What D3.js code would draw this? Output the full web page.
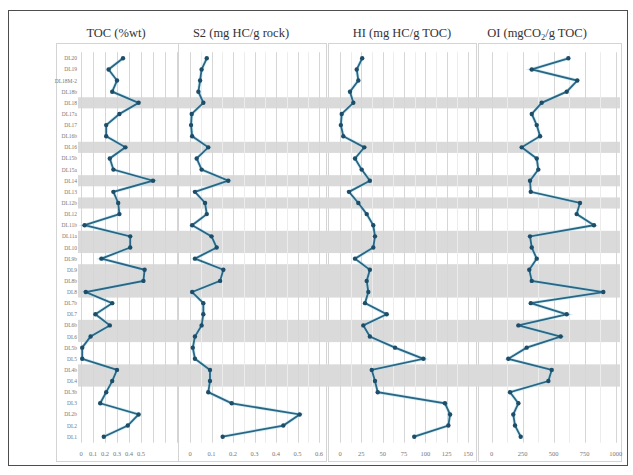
<!DOCTYPE html>
<html>
<head>
<meta charset="utf-8">
<script src="https://cdn.jsdelivr.net/npm/d3@7"></script>
<style>
  html, body { margin: 0; padding: 0; background: #fff; }
  svg { display: block; }
  svg text { font-family: "Liberation Serif", "DejaVu Serif", serif; }
</style>
</head>
<body>
<svg id="chart" width="633" height="475"></svg>
<script>
// samples, top to bottom
const samples = ['DL20', 'DL19', 'DL18M-2', 'DL18b', 'DL18', 'DL17a', 'DL17', 'DL16b', 'DL16', 'DL15b',
  'DL15a', 'DL14', 'DL13', 'DL12b', 'DL12', 'DL11b', 'DL11a', 'DL10', 'DL9b', 'DL9',
  'DL8b', 'DL8', 'DL7b', 'DL7', 'DL6b', 'DL6', 'DL5b', 'DL5', 'DL4b', 'DL4',
  'DL3b', 'DL3', 'DL2b', 'DL2', 'DL1'];

const toc = [0.35, 0.23, 0.30, 0.26, 0.48, 0.32, 0.21, 0.21, 0.37, 0.24,
  0.27, 0.60, 0.27, 0.31, 0.32, 0.03, 0.41, 0.41, 0.17, 0.53,
  0.52, 0.04, 0.26, 0.12, 0.24, 0.08, 0.01, 0.01, 0.30, 0.26,
  0.21, 0.16, 0.48, 0.39, 0.19];

const s2 = [0.078, 0.054, 0.047, 0.039, 0.062, 0.008, 0.005, 0.010, 0.085, 0.031,
  0.054, 0.178, 0.023, 0.070, 0.078, 0.010, 0.100, 0.124, 0.023, 0.155,
  0.140, 0.010, 0.062, 0.062, 0.054, 0.023, 0.013, 0.023, 0.093, 0.093,
  0.085, 0.194, 0.510, 0.434, 0.152];

const hi = [26, 19.6, 21.5, 11.7, 15.6, 2, 1, 3.9, 28.5, 17.6,
  25.4, 35, 10.5, 21.5, 31.3, 39, 41, 39, 17.6, 35,
  31.3, 33.2, 29.3, 54.7, 27.3, 35, 64.5, 97.7, 37.2, 41,
  44.2, 123, 129, 127, 87];

const oi = [618, 323, 690, 605, 403, 323, 363, 390, 242, 363,
  376, 309, 315, 712, 685, 825, 309, 323, 363, 303,
  323, 900, 315, 605, 215, 556, 282, 134, 484, 457,
  148, 215, 174, 188, 234];

// shaded intervals (first and last sample index)
const bands = [[4, 4], [8, 8], [11, 11], [13, 13], [16, 17], [19, 21], [24, 25], [28, 29]];

const tocTicks = [0, 0.1, 0.2, 0.3, 0.4, 0.5];
const s2Ticks = [0, 0.1, 0.2, 0.3, 0.4, 0.5, 0.6];
const hiTicks = [0, 25, 50, 75, 100, 125, 150];
const oiTicks = [0, 250, 500, 750, 1000];

const SERIF = '"Liberation Serif", "DejaVu Serif", serif';
const svg = d3.select('#chart');

const y = d3.scalePoint().domain(samples).range([58.3, 436.7]);
const step = y.step();
const plotTop = y(samples[0]) - step / 2 - 0.5;
const plotBottom = y(samples[samples.length - 1]) + step / 2 + 0.5;

const panels = [
  { title: 'TOC (%wt)', values: toc, ticks: tocTicks, grid: d3.range(0, 0.81, 0.1), minor: [],
    x: d3.scaleLinear().domain([0, 0.8]).range([81, 177]), box: [56, 178], tx: 116 },
  { title: 'S2 (mg HC/g rock)', values: s2, ticks: s2Ticks, grid: s2Ticks, minor: d3.range(0.05, 0.6, 0.1),
    x: d3.scaleLinear().domain([0, 0.6]).range([190, 319]), box: [178, 326], tx: 241 },
  { title: 'HI (mg HC/g TOC)', values: hi, ticks: hiTicks, grid: hiTicks, minor: d3.range(12.5, 150, 25),
    x: d3.scaleLinear().domain([0, 150]).range([340, 468]), box: [328, 476], tx: 402 },
  { title: 'OI', values: oi, ticks: oiTicks, grid: oiTicks, minor: d3.range(125, 1000, 250),
    x: d3.scaleLinear().domain([0, 1000]).range([491.7, 615.7]), box: [478, 621], tx: 537 }
];

// outer frame
svg.append('rect').attr('x', 8.5).attr('y', 10.5).attr('width', 619).attr('height', 455)
  .attr('fill', '#fff').attr('stroke', '#4d4d4d').attr('stroke-width', 1);

// panel boxes
panels.forEach((p) => {
  svg.append('rect')
    .attr('x', p.box[0] + 0.5).attr('y', 43.5)
    .attr('width', p.box[1] - p.box[0]).attr('height', 418)
    .attr('fill', '#fff').attr('stroke', '#d4d4d4').attr('stroke-width', 1);
});

// shaded intervals across all panels
svg.append('g').selectAll('rect')
  .data(bands)
  .join('rect')
  .attr('x', 78).attr('width', 542)
  .attr('y', (d) => y(samples[d[0]]) - step / 2)
  .attr('height', (d) => y(samples[d[1]]) - y(samples[d[0]]) + step)
  .attr('fill', '#dadada');

panels.forEach((p) => {
  const g = svg.append('g');

  // minor grid
  g.selectAll('line.minor')
    .data(p.minor)
    .join('line')
    .attr('class', 'minor')
    .attr('x1', (d) => Math.round(p.x(d)) + 0.5).attr('x2', (d) => Math.round(p.x(d)) + 0.5)
    .attr('y1', plotTop).attr('y2', plotBottom)
    .attr('stroke', '#ececec').attr('stroke-width', 1);

  // major grid
  g.selectAll('line.major')
    .data(p.grid)
    .join('line')
    .attr('class', 'major')
    .attr('x1', (d) => Math.round(p.x(d)) + 0.5).attr('x2', (d) => Math.round(p.x(d)) + 0.5)
    .attr('y1', plotTop).attr('y2', plotBottom)
    .attr('stroke', '#d6d6d6').attr('stroke-width', 1);

  // x tick labels
  g.selectAll('text.tick')
    .data(p.ticks)
    .join('text')
    .attr('class', 'tick')
    .attr('x', (d) => p.x(d))
    .attr('y', 456)
    .attr('text-anchor', 'middle')
    .attr('font-family', SERIF)
    .attr('font-size', 6.5)
    .attr('fill', '#777')
    .text((d) => d3.format('~g')(d));

  // title
  const t = svg.append('text')
    .attr('x', p.tx).attr('y', 37)
    .attr('text-anchor', 'middle')
    .attr('font-family', SERIF)
    .attr('font-size', 12.5)
    .attr('fill', '#333');
  if (p.title === 'OI') {
    t.append('tspan').text('OI (mgCO');
    t.append('tspan').attr('font-size', 8.5).attr('dy', 3).text('2');
    t.append('tspan').attr('dy', -3).text('/g TOC)');
  } else {
    t.text(p.title);
  }

  // profile line
  const line = d3.line()
    .x((d) => p.x(d))
    .y((d, i) => y(samples[i]));

  g.append('path')
    .datum(p.values)
    .attr('d', line)
    .attr('fill', 'none')
    .attr('stroke', '#a6e0ee')
    .attr('stroke-width', 3.4)
    .attr('opacity', 0.55);

  g.append('path')
    .datum(p.values)
    .attr('d', line)
    .attr('fill', 'none')
    .attr('stroke', '#2c6584')
    .attr('stroke-width', 1.8);

  g.selectAll('circle')
    .data(p.values)
    .join('circle')
    .attr('cx', (d) => p.x(d))
    .attr('cy', (d, i) => y(samples[i]))
    .attr('r', 2.2)
    .attr('fill', '#1d4d68');
});

// sample labels
svg.append('g').selectAll('text')
  .data(samples)
  .join('text')
  .attr('x', 77)
  .attr('y', (d) => y(d) + 2)
  .attr('text-anchor', 'end')
  .attr('font-family', SERIF)
  .attr('font-size', 5.5)
  .attr('fill', '#777')
  .text((d) => d);
</script>
</body>
</html>
